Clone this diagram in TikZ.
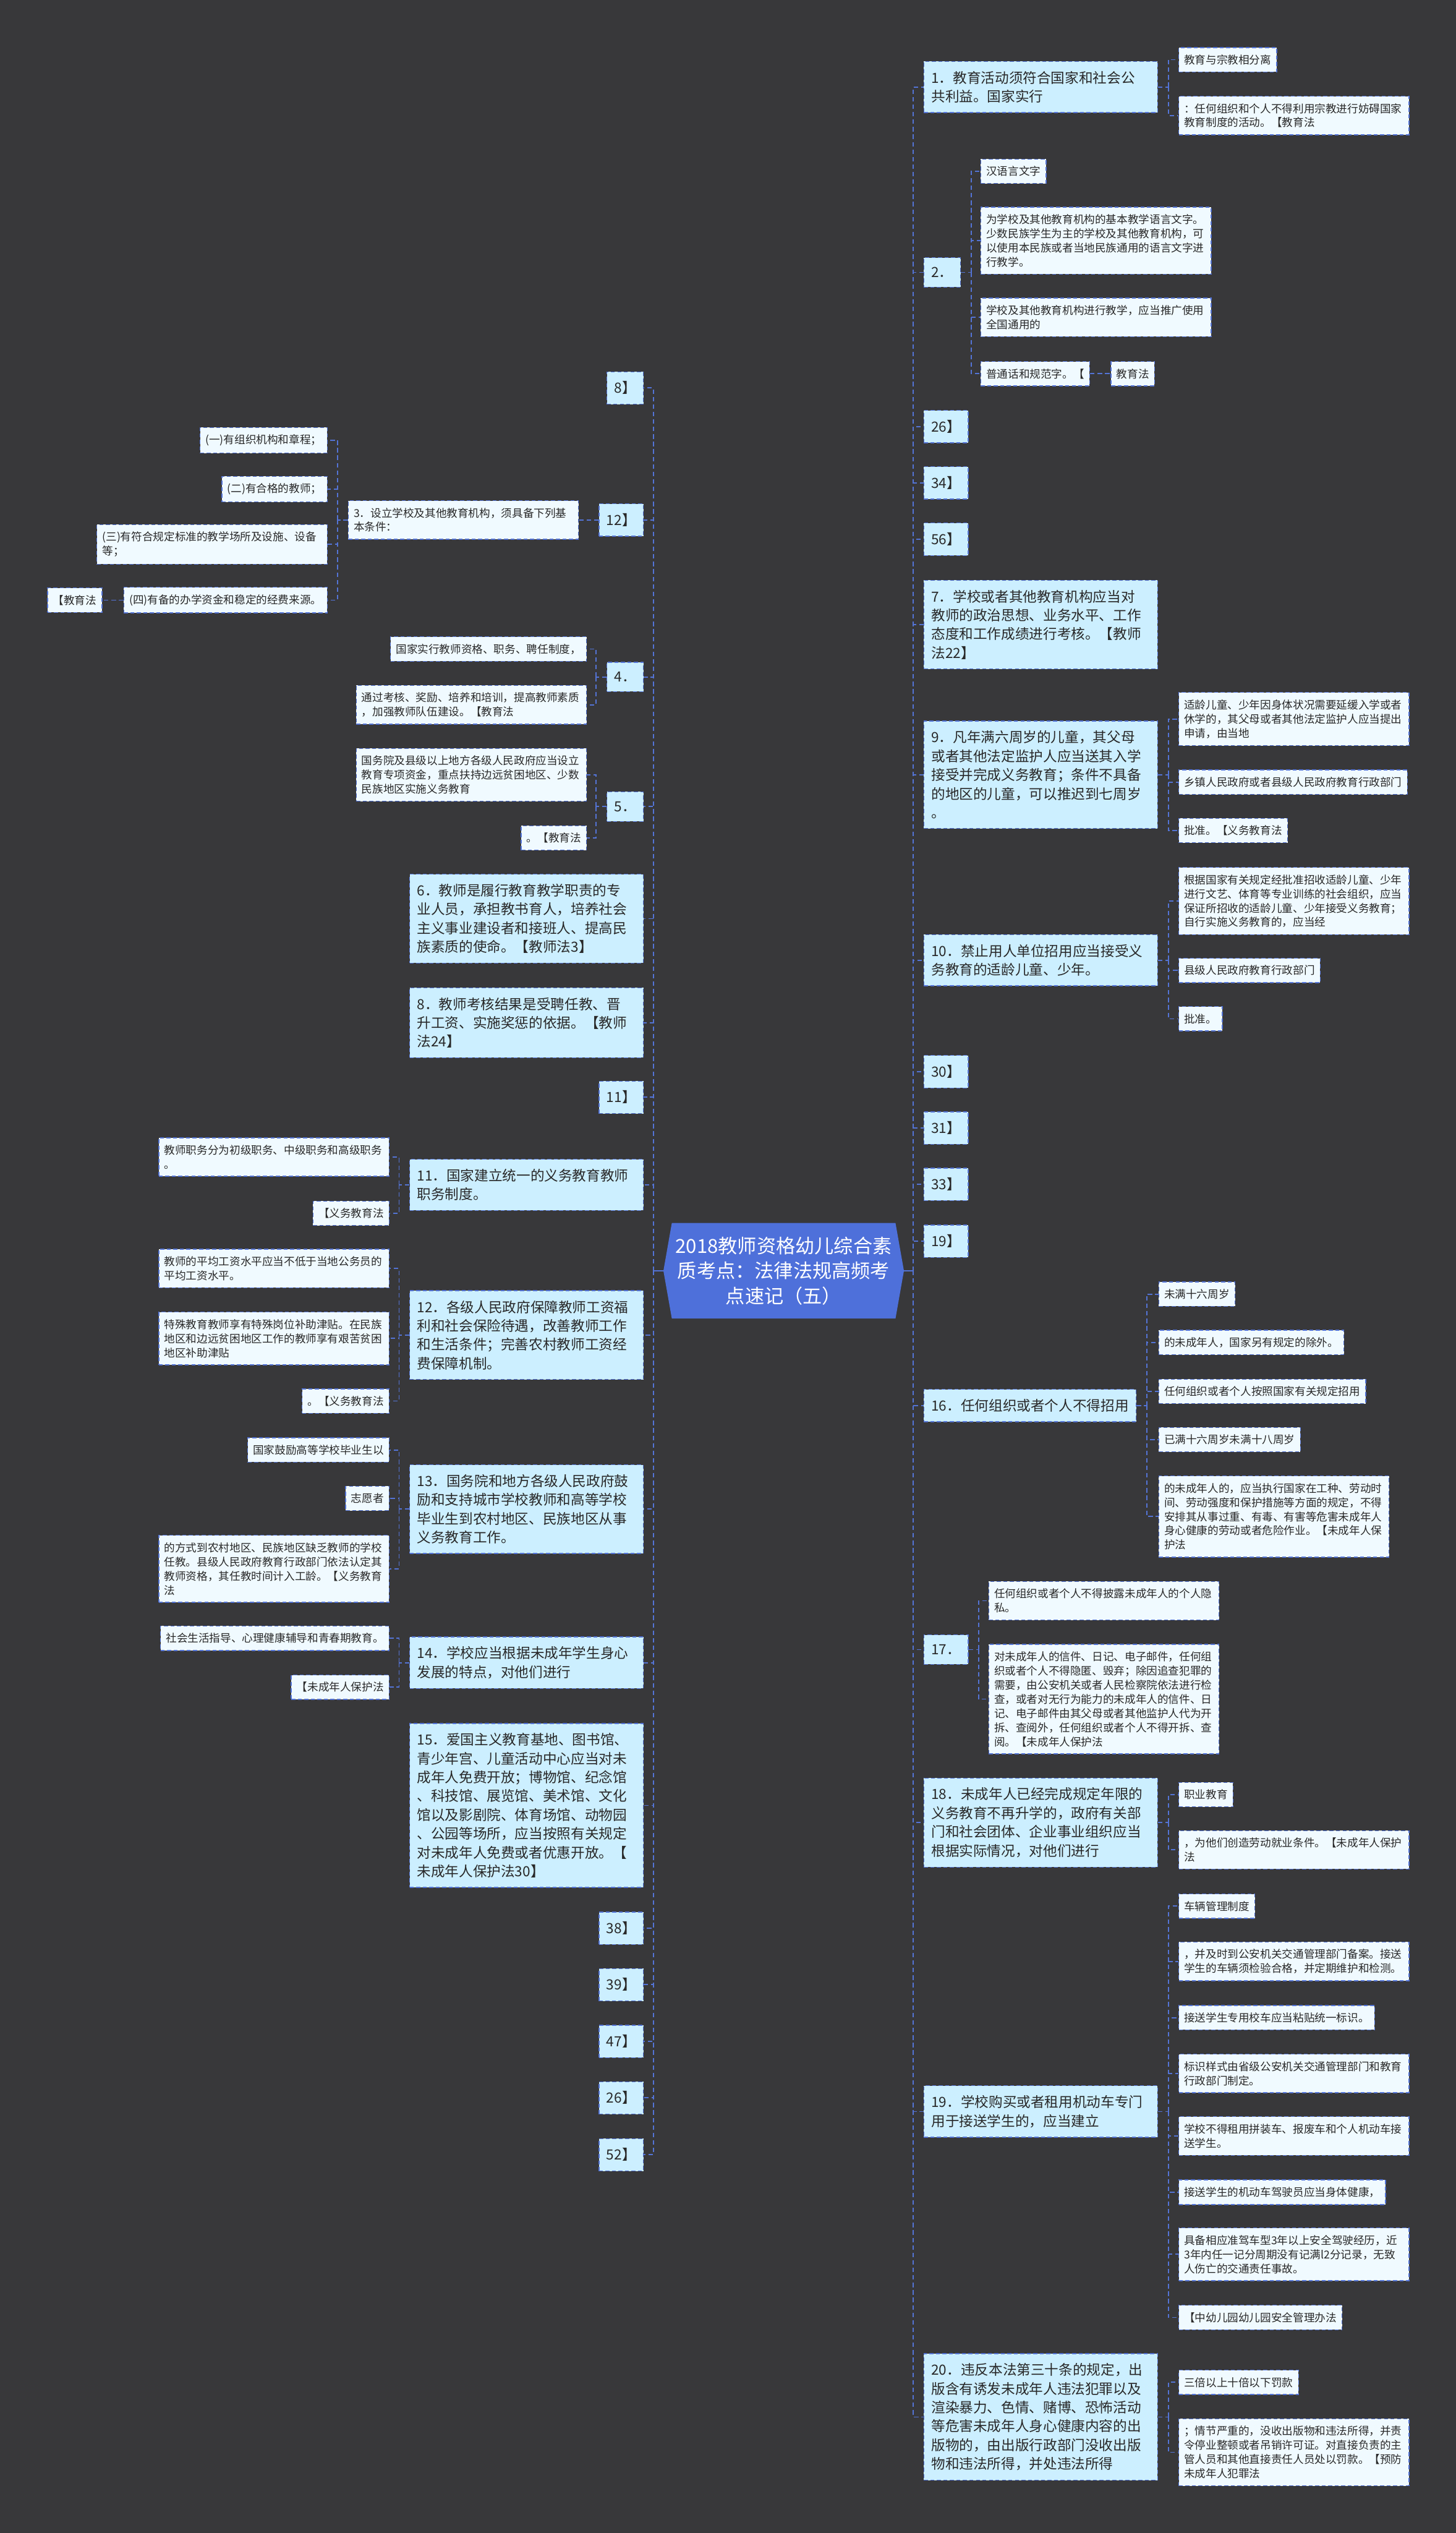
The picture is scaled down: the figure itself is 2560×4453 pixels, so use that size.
\documentclass[tikz,border=0pt]{standalone}
\usepackage{fontspec}
\setmainfont{Noto Sans CJK SC}
\usepackage{tikz}
\usetikzlibrary{shapes.symbols,calc}
\definecolor{mmbg}{RGB}{56,56,58}
\definecolor{mmblue}{RGB}{78,112,218}
\definecolor{mmline}{RGB}{84,116,214}
\definecolor{mmtopic}{RGB}{204,239,255}
\definecolor{mmleaf}{RGB}{240,250,255}
\definecolor{mmtext}{RGB}{40,40,40}

\begin{document}
\begin{tikzpicture}[x=0.02cm,y=-0.02cm,
  branch/.style={draw=mmline,dash pattern=on 4pt off 2.5pt,line width=0.8pt,fill=mmtopic,text=mmtext,font=\fontsize{14}{18.8}\selectfont,align=left,inner xsep=0.26cm,inner ysep=0.34cm},
  widebranch/.style={branch,text width=7.7cm},
  leafbox/.style={draw=mmline,dash pattern=on 4pt off 2.5pt,line width=0.8pt,fill=mmleaf,text=mmtext,font=\fontsize{10.9}{14.2}\selectfont,align=left,inner xsep=0.19cm,inner ysep=0.25cm},
  wideleaf/.style={leafbox,text width=7.72cm},
  hubline/.style={draw=mmline,line width=1.1pt,dash pattern=on 4.5pt off 3pt},
  rootline/.style={draw=mmline,line width=1.6pt}]
  \useasboundingbox (0,0) rectangle (2560,4453);
  \fill[mmbg] (0,0) rectangle (2560,4453);
  % Root
  \node[signal,signal to=east and west,signal pointer angle=160,fill=mmblue,text=white,minimum width=8.46cm,minimum height=3.36cm,inner sep=0pt,align=center,text width=7.7cm,font=\fontsize{19.3}{25}\selectfont] (root) at (1378,2234) {2018教师资格幼儿综合素\\质考点：法律法规高频考\\点速记（五）};
  \coordinate (rhub) at (1606,2234);
  \coordinate (lhub) at (1149,2234);
  % Right side
  \begin{scope}[every node/.append style={anchor=west}]
    \node[widebranch] (r1) at (1624,153) {1．教育活动须符合国家和社会公\\共利益。国家实行};
    \node[leafbox] (r1a) at (2072,105) {教育与宗教相分离};
    \node[wideleaf] (r1b) at (2072,203) {：任何组织和个人不得利用宗教进行妨碍国家\\教育制度的活动。【教育法};
    \node[branch] (r2) at (1624,479) {2．};
    \node[leafbox] (r2a) at (1724,301) {汉语言文字};
    \node[wideleaf] (r2b) at (1724,423) {为学校及其他教育机构的基本教学语言文字。\\少数民族学生为主的学校及其他教育机构，可\\以使用本民族或者当地民族通用的语言文字进\\行教学。};
    \node[wideleaf] (r2c) at (1724,558) {学校及其他教育机构进行教学，应当推广使用\\全国通用的};
    \node[leafbox] (r2d) at (1724,657) {普通话和规范字。【};
    \node[leafbox] (r2e) at (1953,657) {教育法};
    \node[branch] (rk26) at (1624,750) {26】};
    \node[branch] (rk34) at (1624,849) {34】};
    \node[branch] (rk56) at (1624,948) {56】};
    \node[widebranch] (r7) at (1624,1098) {7．学校或者其他教育机构应当对\\教师的政治思想、业务水平、工作\\态度和工作成绩进行考核。【教师\\法22】};
    \node[widebranch] (r9) at (1624,1362) {9．凡年满六周岁的儿童，其父母\\或者其他法定监护人应当送其入学\\接受并完成义务教育；条件不具备\\的地区的儿童，可以推迟到七周岁\\。};
    \node[wideleaf] (r9a) at (2072,1264) {适龄儿童、少年因身体状况需要延缓入学或者\\休学的，其父母或者其他法定监护人应当提出\\申请，由当地};
    \node[leafbox] (r9b) at (2072,1375) {乡镇人民政府或者县级人民政府教育行政部门};
    \node[leafbox] (r9c) at (2072,1460) {批准。【义务教育法};
    \node[widebranch] (r10) at (1624,1688) {10．禁止用人单位招用应当接受义\\务教育的适龄儿童、少年。};
    \node[wideleaf] (r10a) at (2072,1584) {根据国家有关规定经批准招收适龄儿童、少年\\进行文艺、体育等专业训练的社会组织，应当\\保证所招收的适龄儿童、少年接受义务教育；\\自行实施义务教育的，应当经};
    \node[leafbox] (r10b) at (2072,1706) {县级人民政府教育行政部门};
    \node[leafbox] (r10c) at (2072,1791) {批准。};
    \node[branch] (rk30) at (1624,1884) {30】};
    \node[branch] (rk31) at (1624,1983) {31】};
    \node[branch] (rk33) at (1624,2082) {33】};
    \node[branch] (rk19) at (1624,2182) {19】};
    \node[branch] (r16) at (1624,2471) {16．任何组织或者个人不得招用};
    \node[leafbox] (r16a) at (2037,2275) {未满十六周岁};
    \node[leafbox] (r16b) at (2037,2360) {的未成年人，国家另有规定的除外。};
    \node[leafbox] (r16c) at (2037,2446) {任何组织或者个人按照国家有关规定招用};
    \node[leafbox] (r16d) at (2037,2531) {已满十六周岁未满十八周岁};
    \node[wideleaf] (r16e) at (2037,2666) {的未成年人的，应当执行国家在工种、劳动时\\间、劳动强度和保护措施等方面的规定，不得\\安排其从事过重、有毒、有害等危害未成年人\\身心健康的劳动或者危险作业。【未成年人保\\护法};
    \node[branch] (r17) at (1624,2900) {17．};
    \node[wideleaf] (r17a) at (1738,2814) {任何组织或者个人不得披露未成年人的个人隐\\私。};
    \node[wideleaf] (r17b) at (1738,2987) {对未成年人的信件、日记、电子邮件，任何组\\织或者个人不得隐匿、毁弃；除因追查犯罪的\\需要，由公安机关或者人民检察院依法进行检\\查，或者对无行为能力的未成年人的信件、日\\记、电子邮件由其父母或者其他监护人代为开\\拆、查阅外，任何组织或者个人不得开拆、查\\阅。【未成年人保护法};
    \node[widebranch] (r18) at (1624,3204) {18．未成年人已经完成规定年限的\\义务教育不再升学的，政府有关部\\门和社会团体、企业事业组织应当\\根据实际情况，对他们进行};
    \node[leafbox] (r18a) at (2072,3155) {职业教育};
    \node[wideleaf] (r18b) at (2072,3252) {，为他们创造劳动就业条件。【未成年人保护\\法};
    \node[widebranch] (r19) at (1624,3712) {19．学校购买或者租用机动车专门\\用于接送学生的，应当建立};
    \node[leafbox] (r19a) at (2072,3351) {车辆管理制度};
    \node[wideleaf] (r19b) at (2072,3448) {，并及时到公安机关交通管理部门备案。接送\\学生的车辆须检验合格，并定期维护和检测。};
    \node[leafbox] (r19c) at (2072,3547) {接送学生专用校车应当粘贴统一标识。};
    \node[wideleaf] (r19d) at (2072,3645) {标识样式由省级公安机关交通管理部门和教育\\行政部门制定。};
    \node[wideleaf] (r19e) at (2072,3755) {学校不得租用拼装车、报废车和个人机动车接\\送学生。};
    \node[leafbox] (r19f) at (2072,3854) {接送学生的机动车驾驶员应当身体健康，};
    \node[wideleaf] (r19g) at (2072,3963) {具备相应准驾车型3年以上安全驾驶经历，近\\3年内任一记分周期没有记满l2分记录，无致\\人伤亡的交通责任事故。};
    \node[leafbox] (r19h) at (2072,4074) {【中幼儿园幼儿园安全管理办法};
    \node[widebranch] (r20) at (1624,4249) {20．违反本法第三十条的规定，出\\版含有诱发未成年人违法犯罪以及\\渲染暴力、色情、赌博、恐怖活动\\等危害未成年人身心健康内容的出\\版物的，由出版行政部门没收出版\\物和违法所得，并处违法所得};
    \node[leafbox] (r20a) at (2072,4188) {三倍以上十倍以下罚款};
    \node[wideleaf] (r20b) at (2072,4311) {；情节严重的，没收出版物和违法所得，并责\\令停业整顿或者吊销许可证。对直接负责的主\\管人员和其他直接责任人员处以罚款。【预防\\未成年人犯罪法};
  \end{scope}
  % Left side
  \begin{scope}[every node/.append style={anchor=east}]
    \node[branch] (lk8) at (1132,682) {8】};
    \node[branch] (lk12) at (1132,914) {12】};
    \node[wideleaf] (l3) at (1018,914) {3．设立学校及其他教育机构，须具备下列基\\本条件：};
    \node[leafbox] (l3a) at (576,774) {(一)有组织机构和章程；};
    \node[leafbox] (l3b) at (576,860) {(二)有合格的教师；};
    \node[wideleaf] (l3c) at (576,957) {(三)有符合规定标准的教学场所及设施、设备\\等；};
    \node[leafbox] (l3d) at (576,1055) {(四)有备的办学资金和稳定的经费来源。};
    \node[leafbox] (l3e) at (180,1055) {【教育法};
    \node[branch] (l4) at (1132,1190) {4．};
    \node[leafbox] (l4a) at (1032,1141) {国家实行教师资格、职务、聘任制度，};
    \node[wideleaf] (l4b) at (1032,1239) {通过考核、奖励、培养和培训，提高教师素质\\，加强教师队伍建设。【教育法};
    \node[branch] (l5) at (1132,1418) {5．};
    \node[wideleaf] (l5a) at (1032,1362) {国务院及县级以上地方各级人民政府应当设立\\教育专项资金，重点扶持边远贫困地区、少数\\民族地区实施义务教育};
    \node[leafbox] (l5b) at (1032,1473) {。【教育法};
    \node[widebranch] (l6) at (1132,1615) {6．教师是履行教育教学职责的专\\业人员，承担教书育人，培养社会\\主义事业建设者和接班人、提高民\\族素质的使命。【教师法3】};
    \node[widebranch] (l8) at (1132,1798) {8．教师考核结果是受聘任教、晋\\升工资、实施奖惩的依据。【教师\\法24】};
    \node[branch] (lk11) at (1132,1929) {11】};
    \node[widebranch] (l11) at (1132,2083) {11．国家建立统一的义务教育教师\\职务制度。};
    \node[wideleaf] (l11a) at (685,2034) {教师职务分为初级职务、中级职务和高级职务\\。};
    \node[leafbox] (l11b) at (685,2133) {【义务教育法};
    \node[widebranch] (l12) at (1132,2347) {12．各级人民政府保障教师工资福\\利和社会保险待遇，改善教师工作\\和生活条件；完善农村教师工资经\\费保障机制。};
    \node[wideleaf] (l12a) at (685,2230) {教师的平均工资水平应当不低于当地公务员的\\平均工资水平。};
    \node[wideleaf] (l12b) at (685,2353) {特殊教育教师享有特殊岗位补助津贴。在民族\\地区和边远贫困地区工作的教师享有艰苦贫困\\地区补助津贴};
    \node[leafbox] (l12c) at (685,2463) {。【义务教育法};
    \node[widebranch] (l13) at (1132,2653) {13．国务院和地方各级人民政府鼓\\励和支持城市学校教师和高等学校\\毕业生到农村地区、民族地区从事\\义务教育工作。};
    \node[leafbox] (l13a) at (685,2549) {国家鼓励高等学校毕业生以};
    \node[leafbox] (l13b) at (685,2634) {志愿者};
    \node[wideleaf] (l13c) at (685,2758) {的方式到农村地区、民族地区缺乏教师的学校\\任教。县级人民政府教育行政部门依法认定其\\教师资格，其任教时间计入工龄。【义务教育\\法};
    \node[widebranch] (l14) at (1132,2923) {14．学校应当根据未成年学生身心\\发展的特点，对他们进行};
    \node[leafbox] (l14a) at (685,2880) {社会生活指导、心理健康辅导和青春期教育。};
    \node[leafbox] (l14b) at (685,2966) {【未成年人保护法};
    \node[widebranch] (l15) at (1132,3174) {15．爱国主义教育基地、图书馆、\\青少年宫、儿童活动中心应当对未\\成年人免费开放；博物馆、纪念馆\\、科技馆、展览馆、美术馆、文化\\馆以及影剧院、体育场馆、动物园\\、公园等场所，应当按照有关规定\\对未成年人免费或者优惠开放。【\\未成年人保护法30】};
    \node[branch] (lk38) at (1132,3390) {38】};
    \node[branch] (lk39) at (1132,3489) {39】};
    \node[branch] (lk47) at (1132,3589) {47】};
    \node[branch] (lk26) at (1132,3688) {26】};
    \node[branch] (lk52) at (1132,3788) {52】};
  \end{scope}
  % Connectors
  \draw[rootline] (root.east) -- (rhub);
  \draw[rootline] (root.west) -- (lhub);
  \foreach \b in {r1,r2,rk26,rk34,rk56,r7,r9,r10,rk30,rk31,rk33,rk19,r16,r17,r18,r19,r20}
    \draw[hubline] (rhub) |- (\b.west);
  \foreach \b in {lk8,lk12,l4,l5,l6,l8,lk11,l11,l12,l13,l14,l15,lk38,lk39,lk47,lk26,lk52}
    \draw[hubline] (lhub) |- (\b.east);
  \foreach \p/\cs in {r1/{r1a,r1b},r2/{r2a,r2b,r2c,r2d},r9/{r9a,r9b,r9c},r10/{r10a,r10b,r10c},r16/{r16a,r16b,r16c,r16d,r16e},r17/{r17a,r17b},r18/{r18a,r18b},r19/{r19a,r19b,r19c,r19d,r19e,r19f,r19g,r19h},r20/{r20a,r20b}}{
    \draw[hubline] (\p.east) -- ++(18,0) coordinate (hub);
    \foreach \c in \cs \draw[hubline] (hub) |- (\c.west);
  }
  \foreach \p/\cs in {l3/{l3a,l3b,l3c,l3d},l4/{l4a,l4b},l5/{l5a,l5b},l11/{l11a,l11b},l12/{l12a,l12b,l12c},l13/{l13a,l13b,l13c},l14/{l14a,l14b}}{
    \draw[hubline] (\p.west) -- ++(-18,0) coordinate (hub);
    \foreach \c in \cs \draw[hubline] (hub) |- (\c.east);
  }
  \draw[hubline] (r2d.east) -- (r2e.west);
  \draw[hubline] (lk12.west) -- (l3.east);
  \draw[hubline] (l3d.west) -- (l3e.east);
\end{tikzpicture}
\end{document}
